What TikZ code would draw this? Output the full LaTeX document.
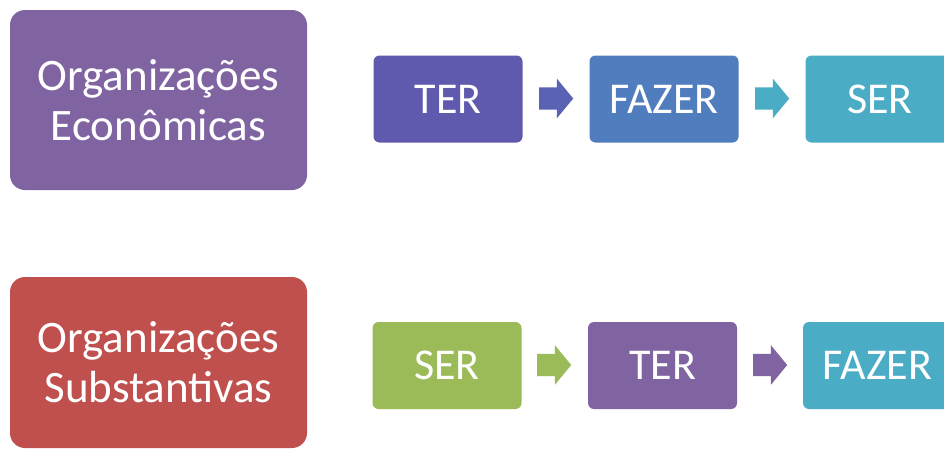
\documentclass[tikz,border=0pt]{standalone}
\usepackage{fontspec}
\setmainfont{Carlito}
\usetikzlibrary{shapes.arrows}
\definecolor{cpurple}{HTML}{8064A2}
\definecolor{cindigo}{HTML}{5F5AAE}
\definecolor{cblue}{HTML}{4F7DBE}
\definecolor{cteal}{HTML}{4BACC6}
\definecolor{cred}{HTML}{C0504D}
\definecolor{cgreen}{HTML}{9BBB59}
\definecolor{carrowA}{HTML}{5A62B4}
\begin{document}
\begin{tikzpicture}[x=1pt,y=-1pt,
  bigbox/.style={fill=#1, draw=none, rounded corners=15pt, text=white,
    minimum width=297pt, align=center, font=\fontsize{45}{50}\selectfont, inner sep=0pt},
  smallbox/.style={fill=#1, draw=none, rounded corners=6pt, text=white,
    minimum width=149pt, minimum height=87pt, font=\fontsize{44}{48}\selectfont, inner sep=0pt},
  blockarrow/.style={single arrow, fill=#1, draw=none, minimum height=34pt, anchor=tail,
    inner xsep=0pt, inner ysep=11pt, single arrow head extend=8.5pt, single arrow tip angle=101}]
\useasboundingbox (0,0) rectangle (944,450);
\fill[white] (0,0) rectangle (944,450);
% row 1
\node[bigbox=cpurple, minimum height=180pt] (econ) at (158.5,100) {Organizações\\Econômicas};
\node[smallbox=cindigo] (ter1) at (448,99) {TER};
\node[smallbox=cblue] (fazer1) at (664,99) {FAZER};
\node[smallbox=cteal] (ser1) at (880,99) {SER};
\node[blockarrow=carrowA] (a11) at (539,98.5) {};
\node[blockarrow=cteal] (a12) at (755,98.5) {};
% row 2
\node[bigbox=cred, minimum height=171pt] (subst) at (158.5,362.5) {Organizações\\Substantivas};
\node[smallbox=cgreen] (ser2) at (447,365.5) {SER};
\node[smallbox=cpurple] (ter2) at (662.5,365.5) {TER};
\node[smallbox=cteal] (fazer2) at (877.5,365.5) {FAZER};
\node[blockarrow=cgreen] (a21) at (537,365) {};
\node[blockarrow=cpurple] (a22) at (753,365) {};
\end{tikzpicture}
\end{document}
